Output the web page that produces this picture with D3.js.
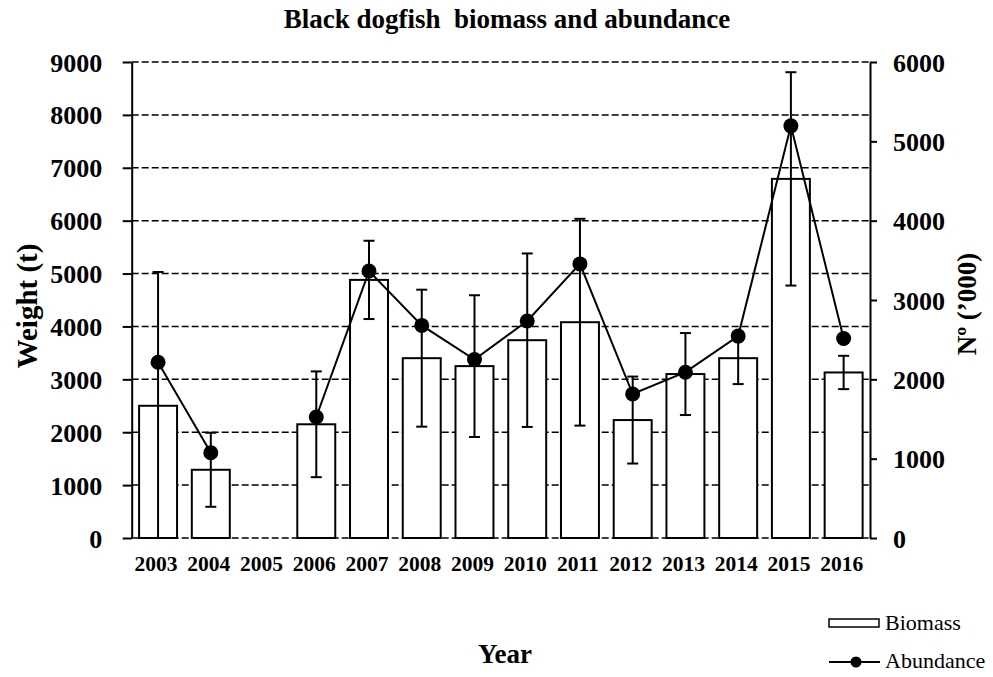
<!DOCTYPE html>
<html><head><meta charset="utf-8">
<script src="https://cdn.jsdelivr.net/npm/d3@7"></script>
<style>body{margin:0;background:#fff}svg{display:block}text{font-family:"Liberation Serif","Times New Roman",serif}</style>
</head><body><svg id="c" width="993" height="677"></svg>
<script>
const years = ["2003","2004","2005","2006","2007","2008","2009","2010","2011","2012","2013","2014","2015","2016"];
const biomass = [2500,1290,null,2150,4880,3400,3250,3740,4080,2230,3100,3400,6790,3130];
const biomassErr = [2530,700,null,1000,740,1295,1340,1640,1955,822,775,490,2017,315];
const abundance = [2215,1075,null,1525,3365,2680,2250,2735,3455,1815,2090,2545,5195,2515];
const leftTicks = [0,1000,2000,3000,4000,5000,6000,7000,8000,9000];
const rightTicks = [0,1000,2000,3000,4000,5000,6000];

const svg = d3.select("#c");
const L = 131.7, R = 870, T = 62, B = 538;
const x = d3.scaleBand().domain(years).range([L, R]).paddingInner(0.28).paddingOuter(0.14);
const yL = d3.scaleLinear().domain([0, 9000]).range([B, T]);
const yR = d3.scaleLinear().domain([0, 6000]).range([B, T]);
const cx = d => x(d) + x.bandwidth() / 2;

// gridlines
svg.append("g").selectAll("line").data(leftTicks).join("line")
  .attr("x1", L).attr("x2", R).attr("y1", d => yL(d)).attr("y2", d => yL(d))
  .attr("stroke", "#000").attr("stroke-width", 1.5).attr("stroke-dasharray", "7,3");

// axes
const gl = svg.append("g").attr("transform", `translate(${L},0)`)
  .call(d3.axisLeft(yL).tickValues(leftTicks).tickSize(9).tickSizeOuter(0).tickFormat(d3.format("d")));
const gr = svg.append("g").attr("transform", `translate(${R},0)`)
  .call(d3.axisRight(yR).tickValues(rightTicks).tickSize(7).tickSizeOuter(0).tickFormat(d3.format("d")));
[gl, gr].forEach(g => {
  g.select(".domain").attr("stroke", "#000").attr("stroke-width", 2);
  g.selectAll(".tick line").attr("stroke", "#000").attr("stroke-width", 2);
  g.selectAll(".tick text").attr("font-family", "Liberation Serif").attr("font-weight", "bold")
    .attr("font-size", 26).attr("fill", "#000").attr("dy", "0.35em");
});
gl.selectAll(".tick text").attr("x", -29.5);
gr.selectAll(".tick text").attr("x", 23);

// x labels
const gx = svg.append("g").attr("transform", `translate(0,${B})`)
  .call(d3.axisBottom(x).tickSize(0));
gx.select(".domain").remove();
gx.selectAll(".tick text").attr("font-family", "Liberation Serif").attr("font-weight", "bold")
  .attr("font-size", 21.5).attr("fill", "#000").attr("dy", 0).attr("y", 32.5).attr("dx", -2);

// bars
const bdata = years.map((y, i) => ({y, v: biomass[i], e: biomassErr[i], a: abundance[i]}));
svg.append("g").selectAll("rect").data(bdata.filter(d => d.v != null)).join("rect")
  .attr("x", d => x(d.y)).attr("width", x.bandwidth())
  .attr("y", d => yL(d.v)).attr("height", d => yL(0) - yL(d.v))
  .attr("fill", "#fff").attr("stroke", "#000").attr("stroke-width", 2);

// error bars
const yc = yL.copy().clamp(true);
const eg = svg.append("g").attr("stroke", "#000").attr("stroke-width", 2);
bdata.filter(d => d.v != null).forEach(d => {
  const x0 = cx(d.y), hi = yc(d.v + d.e), lo = yc(d.v - d.e);
  eg.append("line").attr("x1", x0).attr("x2", x0).attr("y1", hi).attr("y2", lo);
  eg.append("line").attr("x1", x0 - 5.5).attr("x2", x0 + 5.5).attr("y1", hi).attr("y2", hi);
  if (d.v - d.e > 0) eg.append("line").attr("x1", x0 - 5.5).attr("x2", x0 + 5.5).attr("y1", lo).attr("y2", lo);
});

// abundance line
const line = d3.line().defined(d => d.a != null).x(d => cx(d.y)).y(d => yR(d.a));
svg.append("path").datum(bdata).attr("d", line).attr("fill", "none").attr("stroke", "#000").attr("stroke-width", 2);
svg.append("g").selectAll("circle").data(bdata.filter(d => d.a != null)).join("circle")
  .attr("cx", d => cx(d.y)).attr("cy", d => yR(d.a)).attr("r", 7.5).attr("fill", "#000");

// titles
svg.append("text").attr("x", 507).attr("y", 28).attr("text-anchor", "middle")
  .attr("font-weight", "bold").attr("font-size", 27).text("Black dogfish  biomass and abundance").style("white-space", "pre");
svg.append("text").attr("x", 505).attr("y", 663).attr("text-anchor", "middle")
  .attr("font-weight", "bold").attr("font-size", 27).text("Year");
svg.append("text").attr("transform", "translate(37,306) rotate(-90)").attr("text-anchor", "middle")
  .attr("font-weight", "bold").attr("font-size", 29).text("Weight (t)");
svg.append("text").attr("transform", "translate(976,304) rotate(-90)").attr("text-anchor", "middle")
  .attr("font-weight", "bold").attr("font-size", 27).text("Nº (’000)");

// legend
const lg = svg.append("g");
lg.append("rect").attr("x", 829).attr("y", 619).attr("width", 50).attr("height", 8)
  .attr("fill", "#fff").attr("stroke", "#000").attr("stroke-width", 1.5);
lg.append("text").attr("x", 885).attr("y", 630).attr("font-size", 22).text("Biomass");
lg.append("line").attr("x1", 829).attr("x2", 880).attr("y1", 662).attr("y2", 662).attr("stroke", "#000").attr("stroke-width", 2);
lg.append("circle").attr("cx", 856).attr("cy", 662).attr("r", 5.5).attr("fill", "#000");
lg.append("text").attr("x", 885).attr("y", 668).attr("font-size", 22).text("Abundance");
</script></body></html>
